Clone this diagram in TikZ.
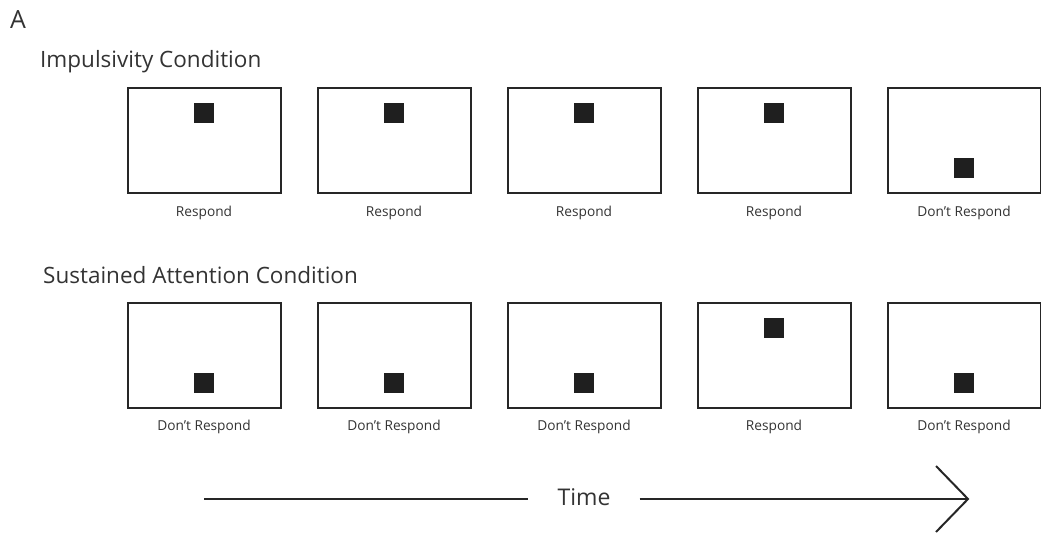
\documentclass[tikz,border=0pt]{standalone}
\usepackage{fontspec}
\setmainfont{Open Sans}
\usetikzlibrary{positioning}
\tikzset{
  screen/.style={draw=black!85,line width=2pt,minimum width=153pt,minimum height=105pt,inner sep=0pt},
  stim/.style={fill=black!88,minimum size=20pt,inner sep=0pt},
  resp/.style={font=\fontsize{13.7}{13.7}\selectfont,text=black!80},
  cond/.style={font=\fontsize{22.5}{22.5}\selectfont,text=black!80,anchor=base west,inner sep=0pt},
}
\begin{document}
\begin{tikzpicture}[x=1pt,y=-1pt]
\useasboundingbox (0,0) rectangle (1041,538);
\pgfmathsetmacro{\kdx}{190}
\pgfmathsetmacro{\kdot}{27.5}
\node[cond,font=\fontsize{25}{25}\selectfont] (panel) at (10,28) {A};
\node[cond] (imp) at (40,67) {Impulsivity Condition};
\node[cond] (sus) at (43,283) {Sustained Attention Condition};
\foreach \i/\s/\t in {0/-1/Respond,1/-1/Respond,2/-1/Respond,3/-1/Respond,4/1/Don't Respond}{
  \node[screen] (a\i) at (204+\i*\kdx,140.5) {};
  \node[stim] (da\i) at (204+\i*\kdx,140.5+\s*\kdot) {};
  \node[resp] (ra\i) at (204+\i*\kdx,213) {\t};
}
\foreach \i/\s/\t in {0/1/Don't Respond,1/1/Don't Respond,2/1/Don't Respond,3/-1/Respond,4/1/Don't Respond}{
  \node[screen] (b\i) at (204+\i*\kdx,355) {};
  \node[stim] (db\i) at (204+\i*\kdx,355+\s*\kdot) {};
  \node[resp] (rb\i) at (204+\i*\kdx,427) {\t};
}
\node[font=\fontsize{23}{23}\selectfont,text=black!80,inner xsep=29pt] (time) at (584,497) {Time};
\coordinate (start) at (204,499);
\coordinate (tip) at (968,499);
\draw[line width=2pt,black!85] (start) -- (start -| time.west);
\draw[line width=2pt,black!85] (tip -| time.east) -- (tip);
\draw[line width=2pt,black!85] (tip) ++(-32,-33) -- (tip) -- ++(-32,33);
\end{tikzpicture}
\end{document}
